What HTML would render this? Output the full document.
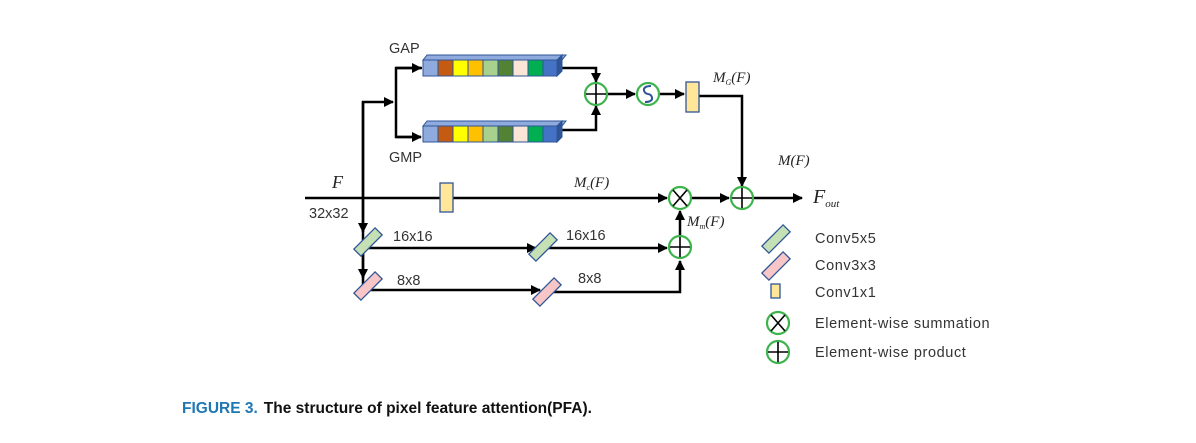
<!DOCTYPE html>
<html><head><meta charset="utf-8"><style>
body{margin:0;background:#fff;width:1196px;height:438px;overflow:hidden}
svg text{font-family:"Liberation Sans",sans-serif}
svg .s text, svg text.s{font-family:"Liberation Serif",serif;font-style:italic}
</style></head><body>
<svg width="1196" height="438" viewBox="0 0 1196 438" xmlns="http://www.w3.org/2000/svg">
<defs>
<marker id="a" markerWidth="10" markerHeight="10" refX="9" refY="5" orient="auto" markerUnits="userSpaceOnUse"><path d="M0,0 L10,5 L0,10z" fill="#000"/></marker>
</defs>
<g stroke="#000" stroke-width="2.5" fill="none">
<line x1="305" y1="198" x2="667" y2="198" marker-end="url(#a)"/>
<line x1="692" y1="198" x2="729" y2="198" marker-end="url(#a)"/>
<line x1="754" y1="198" x2="802" y2="198" marker-end="url(#a)"/>
<polyline points="363,290 363,102 393,102" marker-end="url(#a)"/>
<line x1="363" y1="102" x2="363" y2="232" marker-end="url(#a)"/>
<line x1="363" y1="248" x2="363" y2="278" marker-end="url(#a)"/>
<polyline points="422,68 396,68 396,137 421,137" />
<line x1="396" y1="68" x2="421" y2="68" marker-end="url(#a)"/>
<line x1="396" y1="137" x2="421" y2="137" marker-end="url(#a)"/>
<polyline points="560,68 596,68 596,82" marker-end="url(#a)"/>
<polyline points="560,130 596,130 596,106" marker-end="url(#a)"/>
<line x1="607" y1="94" x2="635" y2="94" marker-end="url(#a)"/>
<line x1="660" y1="94" x2="684" y2="94" marker-end="url(#a)"/>
<polyline points="699,96 742,96 742,186" marker-end="url(#a)"/>
<line x1="368" y1="248" x2="536" y2="248" marker-end="url(#a)"/>
<line x1="548" y1="248" x2="667" y2="248" marker-end="url(#a)"/>
<line x1="368" y1="290" x2="540" y2="290" marker-end="url(#a)"/>
<polyline points="552,292 680,292 680,261" marker-end="url(#a)"/>
<line x1="680" y1="236" x2="680" y2="211" marker-end="url(#a)"/>
</g>
<g stroke="#2f5597" stroke-width="1">
<g id="row">
<polygon points="423,60 427,55 566,55 562,60" fill="#8faadc"/>
<polygon points="557,60 562,55 562,71 557,76" fill="#2f5597"/>
<rect x="423" y="60" width="15" height="16" fill="#8faadc"/>
<rect x="438" y="60" width="15" height="16" fill="#c55a11"/>
<rect x="453" y="60" width="15" height="16" fill="#ffff00"/>
<rect x="468" y="60" width="15" height="16" fill="#ffc000"/>
<rect x="483" y="60" width="15" height="16" fill="#a9d18e"/>
<rect x="498" y="60" width="15" height="16" fill="#548235"/>
<rect x="513" y="60" width="15" height="16" fill="#fbe5d6"/>
<rect x="528" y="60" width="15" height="16" fill="#00b050"/>
<rect x="543" y="60" width="14" height="16" fill="#4472c4"/>
</g>
<use href="#row" transform="translate(0,66)"/>
</g>
<g fill="#ffe699" stroke="#2f5597" stroke-width="1.3">
<rect x="686" y="82" width="13" height="30"/>
<rect x="440" y="183" width="13" height="29"/>
<rect x="771" y="284" width="9" height="14"/>
</g>
<g stroke="#2f5597" stroke-width="1.3">
<rect x="-15" y="-5" width="30" height="10" fill="#c5e0b4" transform="translate(368,242) rotate(-45)"/>
<rect x="-15" y="-5" width="30" height="10" fill="#c5e0b4" transform="translate(543,247) rotate(-45)"/>
<rect x="-15" y="-5" width="30" height="10" fill="#f8c6c6" transform="translate(368,286) rotate(-45)"/>
<rect x="-15" y="-5" width="30" height="10" fill="#f8c6c6" transform="translate(547,292) rotate(-45)"/>
<rect x="-15" y="-5" width="30" height="10" fill="#c5e0b4" transform="translate(776,239) rotate(-45)"/>
<rect x="-15" y="-5" width="30" height="10" fill="#f8c6c6" transform="translate(776,266) rotate(-45)"/>
</g>
<g fill="#fff" stroke="#3cb44b" stroke-width="2.2">
<circle cx="596" cy="94" r="11"/><circle cx="648" cy="94" r="11"/>
<circle cx="680" cy="198" r="11"/><circle cx="742" cy="198" r="11"/>
<circle cx="680" cy="247" r="11"/>
<circle cx="778" cy="323" r="11"/><circle cx="778" cy="352" r="11"/>
</g>
<g stroke="#000" stroke-width="1.6">
<path d="M596,84V104M586,94H606"/>
<path d="M742,188V208M732,198H752"/>
<path d="M680,237V257M670,247H690"/>
<path d="M778,342V362M768,352H788"/>
<path d="M673,190L687,206M687,190L673,206"/>
<path d="M771,315L785,331M785,315L771,331"/>
</g>
<path d="M651,86 C640,86 644,94 648,94 C652,94 656,102 645,102" stroke="#2f5597" stroke-width="2" fill="none"/>
<g font-size="14.5" fill="#333">
<text x="389" y="53">GAP</text>
<text x="389" y="162">GMP</text>
<text x="309" y="218">32x32</text>
<text x="393" y="241">16x16</text>
<text x="566" y="240">16x16</text>
<text x="397" y="285">8x8</text>
<text x="578" y="283">8x8</text>
</g>
<g font-size="14.5" fill="#333" letter-spacing="0.6">
<text x="815" y="243">Conv5x5</text>
<text x="815" y="270">Conv3x3</text>
<text x="815" y="297">Conv1x1</text>
<text x="815" y="328">Element-wise summation</text>
<text x="815" y="357">Element-wise product</text>
</g>
<g class="s" fill="#222">
<text x="332" y="188" font-size="18">F</text>
<text x="574" y="187" font-size="15">M<tspan font-size="8" dy="3">c</tspan><tspan dy="-3">(F)</tspan></text>
<text x="713" y="82" font-size="15">M<tspan font-size="8" dy="3">G</tspan><tspan dy="-3">(F)</tspan></text>
<text x="778" y="165" font-size="15">M(F)</text>
<text x="687" y="226" font-size="15">M<tspan font-size="8" dy="3">m</tspan><tspan dy="-3">(F)</tspan></text>
<text x="813" y="203" font-size="20">F<tspan font-size="11" dy="4">out</tspan></text>
</g>
<text x="182" y="413" font-size="15.5" font-weight="bold"><tspan fill="#1f77b4">FIGURE 3.</tspan><tspan fill="#111" dx="6">The structure of pixel feature attention(PFA).</tspan></text>
</svg>
</body></html>
